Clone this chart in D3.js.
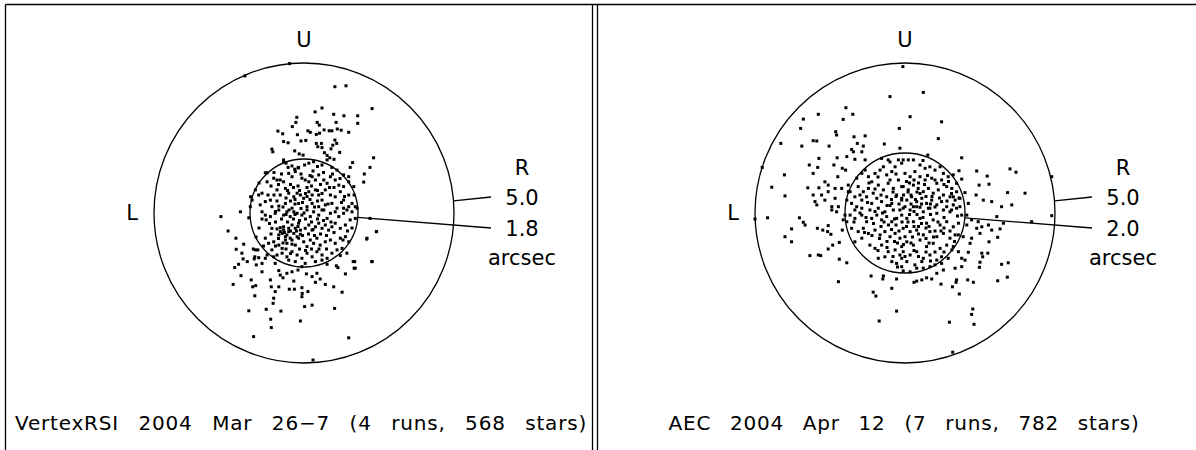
<!DOCTYPE html>
<html>
<head>
<meta charset="utf-8">
<script src="https://cdn.jsdelivr.net/npm/d3@7"></script>
<style>
  html, body { margin: 0; padding: 0; background: #fff; }
  svg { display: block; }
  text { font-family: "DejaVu Sans", sans-serif; fill: #000; }
</style>
</head>
<body>
<svg id="chart" width="1196" height="450"></svg>
<script>
// ---------------- DATA (offsets in arcsec; x toward R, y toward U) ----------------
const outerRadius = 5.0;
const innerRadii = [1.8, 2.0];
const captions = ["VertexRSI 2004 Mar 26\u22127 (4 runs, 568 stars)", "AEC 2004 Apr 12 (7 runs, 782 stars)"];
const dirLabels = ["U", "L", "R"];
const unitLabel = "arcsec";

const leftStars = [
[1.03,4.21],[1.40,4.24],[0.60,3.50],[0.37,3.37],[2.27,3.48],[0.99,3.29],[1.33,3.24],[1.79,3.24],[1.79,2.99],
[-0.24,3.19],[-0.27,3.02],[0.44,3.02],[0.51,2.93],[1.07,3.02],[0.84,2.74],[0.93,2.74],[1.11,2.80],[1.24,2.76],
[1.49,2.69],[-0.39,2.88],[-0.87,2.73],[-0.71,2.64],[0.13,2.74],[0.21,2.69],[0.41,2.62],[0.52,2.66],[0.67,2.77],
[-0.22,2.61],[-0.10,2.40],[0.06,2.42],[-0.68,2.38],[-0.53,2.34],[0.41,2.32],[0.58,2.32],[0.46,2.21],[0.60,2.18],
[1.03,2.43],[1.09,2.32],[0.96,2.26],[0.90,2.14],[-1.07,2.13],[-1.04,2.04],[-0.31,2.07],[-0.16,1.97],[-0.03,1.93],
[0.68,2.01],[0.77,1.92],[0.86,1.84],[1.00,1.79],[1.19,2.02],[1.62,1.68],[1.54,1.52],[2.32,1.84],[2.20,1.52],
[2.01,1.30],[1.99,1.03],[-0.68,1.77],[-0.60,1.66],[-1.23,1.34],[-0.53,1.52],[-0.31,1.46],
[-0.48,4.98],[-1.97,4.57],[0.30,-4.90],
[2.20,-0.18],[2.42,-0.62],[2.09,-0.87],[2.26,-1.62],[1.64,-1.62],[1.67,-1.84],[-2.12,0.04],[1.67,0.60],[-1.78,0.54],
[-2.77,-0.12],[-1.84,-0.16],[-2.53,-0.60],[-2.27,-0.84],[-2.01,-1.04],[-2.26,-1.21],[-2.07,-1.34],[-2.03,-1.53],
[-2.18,-1.71],[-2.31,-1.82],[-2.10,-2.09],[-2.36,-2.38],[-1.89,-1.62],[-1.69,-1.20],[-1.62,-1.23],[-1.54,-1.23],
[-1.64,-1.46],[-1.51,-1.49],[-1.66,-1.53],[-1.59,-1.73],[-1.40,-1.68],[-1.29,-1.51],[-1.23,-1.40],[-1.01,-1.46],
[-0.96,-1.68],[-1.40,-1.96],[-1.76,-2.23],[-1.71,-2.46],[-1.61,-2.42],[-1.64,-2.76],[-1.12,-2.23],[-1.09,-2.46],
[-0.96,-2.62],[-1.01,-2.84],[-1.03,-3.01],[-0.84,-2.46],[-0.84,-1.92],[-0.79,-2.07],[-0.70,-2.16],[-0.57,-2.01],
[-0.40,-1.96],[-0.20,-1.90],[-0.07,-1.79],[0.08,-2.03],[-0.34,-2.27],[-0.49,-2.54],[-0.32,-2.54],[-0.07,-2.49],
[-0.06,-2.68],[-0.07,-2.79],[0.13,-2.62],[0.27,-2.12],[0.38,-2.31],[0.43,-2.01],[0.54,-2.20],[0.71,-2.38],
[0.99,-2.46],[1.27,-2.64],[0.77,-1.71],[1.08,-1.76],[1.13,-1.82],[1.38,-2.03],[1.69,-1.62],[1.71,-1.84],
[2.27,-1.62],[1.43,-1.34],[1.21,-1.42],[2.10,-0.84],[2.41,-0.62],[-1.26,-3.21],[-1.84,-3.26],[-0.77,-3.27],
[0.02,-3.12],[0.27,-3.07],[1.02,-3.18],[-1.11,-3.54],[-1.09,-3.82],[-0.12,-3.60],[-1.68,-4.12],[1.49,-4.16],
[-0.68,1.71],[-0.40,1.57],[-0.18,1.52],[0.02,1.60],[0.16,1.66],[0.32,1.71],[0.60,1.60],[0.77,1.77],[0.93,1.52],
[1.10,1.43],[1.32,1.27],[1.49,1.21],[-1.29,1.34],[-1.23,1.04],[-1.01,1.16],[-0.90,1.10],[-0.79,1.10],[-0.68,1.04],
[-0.51,1.32],[-0.40,1.21],[-0.29,1.38],[-0.07,1.16],[0.04,1.10],[0.16,1.04],[0.27,1.21],[0.38,1.10],[0.49,1.27],
[0.66,1.10],[0.77,0.99],[0.88,1.21],[1.04,1.10],[1.16,0.93],[1.32,0.88],[1.49,1.04],[1.66,0.88],[-1.62,0.77],
[-1.51,0.60],[-1.40,0.66],[-1.29,0.38],[-1.12,0.43],[-0.90,0.77],[-0.79,0.60],[-0.62,0.82],[-0.51,0.66],
[-0.34,0.54],[-0.23,0.66],[-0.12,0.60],[-0.01,0.49],[0.16,0.71],[0.27,0.60],[0.38,0.77],[0.49,0.60],[0.60,0.43],
[0.71,0.77],[0.88,0.60],[1.04,0.54],[1.21,0.71],[1.32,0.43],[1.49,0.60],[1.60,0.32],[1.71,0.21],[-1.73,0.43],
[-1.79,0.21],[-1.46,0.27],[-1.07,0.21],[-0.84,0.23],[-0.62,0.32],[-0.40,0.16],[-0.18,0.32],[0.10,0.21],[0.27,0.32],
[0.49,0.21],[0.71,0.27],[0.93,0.32],[1.10,0.16],[1.32,0.16],[1.49,0.21],
[-0.20,0.90],[0.10,0.85],[-0.45,0.95],[0.55,0.95],[-0.05,0.35],[0.20,0.45],[-0.30,0.30],[0.45,0.40],[-0.60,0.50],
[0.80,0.30],[-0.90,0.40],[1.00,0.85],[-1.10,0.90],[0.30,1.40],[-0.10,1.30],[0.65,1.35],[-0.75,1.30],[1.20,1.15],
[-1.40,-0.20],[-1.26,-0.23],[-1.07,-0.51],[-0.90,-0.53],[-0.79,-0.49],[-0.68,-0.57],[-0.84,-0.73],[-0.73,-0.68],
[-0.62,-0.79],[-0.51,-0.62],[-0.40,-0.40],[-0.29,-0.51],[-0.18,-0.34],[-0.12,-0.57],[0.04,-0.51],[0.16,-0.40],
[0.27,-0.57],[0.38,-0.46],[0.49,-0.34],[0.60,-0.51],[0.71,-0.40],[0.82,-0.57],[0.93,-0.46],[1.04,-0.34],
[1.21,-0.51],[1.38,-0.40],[1.54,-0.23],[1.71,-0.18],[-1.40,0.04],[-1.29,-0.07],[-1.12,-0.12],[-0.96,-0.01],
[-0.84,0.10],[-0.68,-0.07],[-0.57,0.04],[-0.46,-0.12],[-0.34,0.04],[-0.23,-0.01],[-0.07,-0.07],[0.10,0.10],
[0.21,-0.12],[0.32,0.04],[0.49,-0.07],[0.66,0.10],[0.77,-0.18],[0.88,-0.01],[1.04,0.04],[1.16,-0.12],[1.32,-0.01],
[1.43,0.10],[1.60,0.04],[1.77,0.16],[-1.29,-0.84],[-1.18,-1.01],[-1.01,-0.96],[-0.84,-1.07],[-0.73,-1.18],
[-0.57,-1.01],[-0.40,-0.90],[-0.29,-1.07],[-0.18,-0.84],[-0.01,-0.96],[0.10,-1.12],[0.21,-0.90],[0.32,-1.01],
[0.43,-0.84],[0.54,-1.07],[0.71,-0.96],[0.88,-0.90],[1.04,-1.01],[1.21,-0.84],[1.38,-0.79],[1.49,-0.96],
[-1.07,-1.23],[-0.90,-1.40],[-0.73,-1.34],[-0.57,-1.46],[-0.40,-1.29],[-0.23,-1.40],[-0.07,-1.51],[0.10,-1.34],
[0.27,-1.46],[0.43,-1.29],[0.60,-1.40],[0.77,-1.51],[0.93,-1.34],[1.10,-1.23],[1.27,-1.18],[-0.29,-1.62],
[0.04,-1.68],[0.38,-1.62],[0.60,-1.57],[-0.51,-1.57],[-0.79,-0.62],[-0.68,-0.46],[-0.57,-0.73],[-0.46,-0.84],
[-0.34,-0.68],[-0.23,-0.79],[-0.12,-0.71],[-0.51,-0.51],[-0.62,-0.90],[-0.40,-1.04],
[-0.55,0.75],[-0.35,0.85],[-0.15,0.75],[0.05,0.65],[0.25,0.90],[0.45,0.75],[-0.70,0.20],[-0.50,0.10],[-0.30,0.45],
[-0.10,0.15],[0.10,0.55],[0.35,0.20],[0.60,0.65],[0.85,0.85],[-0.95,0.05],[-0.75,-0.20],[-0.55,-0.30],[-0.35,-0.20],
[-0.15,-0.25],[0.05,-0.20],[0.25,-0.30],[0.45,-0.20],[0.65,-0.25],[0.90,-0.30],[-1.15,-0.35],[-0.95,-0.30],
[-0.85,-0.85],[-0.65,-0.65],[-0.45,-0.60],[-0.25,-0.60],[-0.05,-0.75],[0.15,-0.70],[0.35,-0.75],[0.55,-0.70],
[0.75,-0.75],[1.00,-0.65],[-1.10,-0.70],[-0.95,-1.10],[-0.60,-1.20],[-0.45,-1.35],[-0.15,-1.20],[0.05,-1.25],
[0.25,-1.20],[0.50,-1.20],[0.75,-1.20],[-0.70,-1.00],[1.30,-0.90],[1.25,0.35],[1.45,-0.60],[-1.50,-0.50],
[-1.60,-0.80],[-1.35,-1.10],[-1.20,0.60],[-1.00,0.60],[-1.50,1.00],[-0.85,0.95],[0.95,1.30],[1.35,0.55],
[1.60,-0.50],[0.20,1.25],[-0.20,1.50],[0.45,1.55],[-1.00,1.35],[-0.30,-0.05],[0.00,0.00],[-0.20,-0.45],
[-0.60,-0.05],[-0.45,0.40],[0.60,0.10],[0.30,-0.55]
];

const rightStars = [
[-0.07,4.88],[-4.76,1.52],[-5.00,-0.20],[4.89,1.21],[4.89,-0.09],[1.59,-4.64],
[-0.50,3.88],[-0.19,2.82],[-1.97,3.51],[-1.74,3.29],[-2.89,3.29],[-3.39,3.13],[-2.06,3.12],[-3.48,2.82],
[-2.31,2.71],[-2.28,2.60],[-1.70,2.54],[-1.33,2.57],[-3.06,2.41],[-2.94,2.40],[-4.14,2.32],[-3.44,2.23],
[-2.53,2.23],[-1.59,2.32],[-1.39,2.23],[-0.69,2.30],[-0.17,2.16],[-1.78,2.12],[-1.72,2.04],[-1.44,2.04],
[-2.87,1.82],[-2.26,1.84],[-1.94,1.88],[-1.67,1.79],[-1.33,1.77],[-0.78,1.82],[-0.56,1.77],[-3.19,1.60],
[-2.91,1.52],[-2.37,1.60],[-2.09,1.49],[-1.98,1.43],[-3.06,1.32],[-2.24,1.21],[-4.02,1.27],[-2.67,1.04],
[-2.56,0.93],[-3.24,0.84],[-2.87,0.84],[-4.44,0.86],[-4.00,0.57],[-3.06,0.60],[-2.78,0.60],[-2.56,0.71],
[-2.33,0.82],[-2.11,0.82],[-1.89,0.93],[-1.89,0.71],[-3.00,0.38],[-2.94,0.27],[-2.67,0.43],[-2.33,0.49],
[-2.22,0.21],[-2.44,0.21],
[-1.61,1.16],[-1.44,1.32],[-1.33,1.43],[-1.22,1.21],[-1.11,1.04],[-1.00,1.32],[-0.83,1.43],[-0.72,1.54],
[-0.61,1.27],[-0.44,1.38],[-0.33,1.54],[-0.22,1.77],[-0.11,1.66],[-1.56,0.88],[-1.39,0.71],[-1.22,0.82],
[-1.06,0.66],[-0.89,0.93],[-0.72,0.77],[-0.56,0.99],[-0.39,0.82],[-0.22,1.10],[-0.11,0.88],[-1.67,0.54],
[-1.44,0.43],[-1.28,0.54],[-1.11,0.32],[-0.94,0.49],[-0.78,0.38],[-0.61,0.54],[-0.44,0.32],[-0.28,0.60],
[-0.11,0.43],[-1.78,0.32],[-1.61,0.21],[-1.94,0.43],[-1.83,0.71],
[0.61,4.02],[0.17,3.21],[1.22,3.04],[1.11,2.48],[0.76,1.93],[1.89,1.84],[2.39,1.40],[1.80,1.41],[2.74,1.23],
[3.50,1.47],[3.70,1.36],[1.89,1.13],[2.47,0.93],[2.80,0.96],[3.42,0.68],[4.00,0.66],[2.00,0.68],[2.37,0.60],
[2.61,0.43],[2.89,0.38],[3.22,0.21],[3.56,0.27],[2.11,0.32],[1.83,0.49],[1.61,0.54],
[-0.06,1.77],[0.11,1.77],[0.28,1.77],[0.50,1.60],[0.67,1.49],[0.83,1.54],[1.00,1.43],[1.17,1.54],[1.28,1.32],
[1.44,1.21],[1.61,1.27],[1.72,0.99],[0.00,1.32],[0.17,1.21],[0.33,1.38],[0.50,1.21],[0.67,1.10],[0.89,1.16],
[1.06,0.99],[1.22,1.10],[1.39,0.88],[1.56,0.82],[1.72,0.71],[-0.06,0.88],[0.11,0.77],[0.28,0.93],[0.44,0.82],
[0.61,0.71],[0.78,0.82],[0.94,0.66],[1.11,0.77],[1.28,0.60],[1.50,0.54],[1.67,0.43],[-0.11,0.49],[0.06,0.43],
[0.22,0.54],[0.39,0.38],[0.56,0.49],[0.72,0.32],[0.89,0.43],[1.06,0.27],[1.22,0.38],[1.39,0.21],[1.61,0.27],
[1.83,0.21],[0.00,0.21],[0.28,0.21],[0.50,0.19],[0.78,0.16],
[-4.58,-0.16],[-3.52,-0.16],[-3.39,-0.31],[-3.33,-0.40],[-3.78,-0.53],[-4.00,-0.79],[-3.78,-0.96],[-2.92,-0.51],
[-2.74,-0.57],[-2.56,-0.42],[-2.58,-0.62],[-2.47,-0.71],[-2.41,-1.07],[-2.56,-1.20],[-2.09,-0.57],[-2.19,-0.98],
[-3.17,-1.42],[-2.89,-1.40],[-2.81,-1.42],[-2.19,-1.54],[-1.94,-1.66],[-2.22,-2.29],[-1.13,-2.10],[-0.72,-2.10],
[-0.74,-2.20],[-0.44,-2.51],[-0.28,-2.20],[-1.06,-2.64],[-0.97,-2.77],[-0.28,-3.27],[-0.86,-3.60],
[-1.67,-0.18],[-1.44,-0.07],[-1.28,-0.29],[-1.11,-0.18],[-0.94,-0.07],[-0.78,-0.23],[-0.61,-0.12],[-0.44,-0.29],
[-0.28,-0.18],[-0.11,-0.07],[-1.78,-0.51],[-1.56,-0.62],[-1.39,-0.51],[-1.22,-0.68],[-1.00,-0.57],[-0.83,-0.73],
[-0.67,-0.62],[-0.50,-0.79],[-0.33,-0.68],[-0.17,-0.84],[-1.67,-0.96],[-1.44,-0.84],[-1.17,-1.07],[-1.00,-1.18],
[-0.78,-1.07],[-0.56,-1.29],[-0.33,-1.23],[-0.17,-1.40],[-0.89,-1.51],[-0.67,-1.46],[-0.44,-1.62],[-0.28,-1.68],
[-0.11,-1.79],[-0.11,-1.51],[-1.94,-0.29],[-1.83,-0.07],[-1.67,0.10],[-1.44,0.16],[-1.17,0.10],[-0.89,0.16],
[-0.67,0.04],[-0.39,0.10],[-0.17,0.10],[-2.44,0.10],[-2.28,0.04],[-2.06,-0.23],[-2.00,-0.07],
[4.22,-0.29],[3.06,-0.12],[3.28,-0.34],[3.17,-0.53],[2.89,-0.57],[2.78,-0.40],[2.56,-0.46],[2.44,-0.29],
[3.09,-0.81],[2.80,-0.96],[2.56,-1.34],[2.59,-1.46],[2.76,-1.34],[2.50,-1.64],[2.48,-1.81],[3.22,-1.71],
[3.44,-1.66],[3.41,-2.14],[3.09,-2.26],[2.28,-2.31],[2.09,-2.23],[1.72,-2.23],[1.70,-2.31],[1.58,-2.46],
[1.81,-2.70],[1.20,-2.37],[0.89,-2.20],[0.72,-2.16],[0.56,-2.23],[0.39,-2.27],[0.30,-2.31],[2.26,-3.20],
[2.22,-3.38],[2.30,-3.71],[1.48,-3.64],[1.67,-1.84],[1.89,-1.79],[1.28,-1.90],[1.06,-2.01],[1.89,-1.51],
[2.00,-1.57],[2.11,-1.31],[2.22,-0.84],[2.17,-1.01],[2.50,-0.68],[2.39,-0.51],[2.06,-0.40],[2.22,-0.23],
[2.06,-0.07],[1.78,-0.73],[1.94,-0.79],[1.61,-1.12],[1.78,-1.29],[1.44,-1.51],[1.22,-1.68],[1.00,-1.73],
[0.83,-1.79],[0.61,-1.84],[0.39,-1.84],[0.17,-1.96],[-0.06,-1.93],
[-0.06,0.16],[0.17,0.10],[0.39,0.21],[0.61,0.04],[0.83,0.16],[1.06,-0.01],[1.28,0.10],[1.50,0.04],[1.72,0.16],
[1.89,-0.07],[0.06,-0.18],[0.28,-0.29],[0.50,-0.18],[0.72,-0.34],[0.94,-0.23],[1.17,-0.40],[1.39,-0.29],
[1.61,-0.46],[1.78,-0.34],[-0.06,-0.51],[0.17,-0.62],[0.39,-0.57],[0.61,-0.73],[0.83,-0.62],[1.06,-0.79],
[1.28,-0.68],[1.50,-0.84],[1.67,-0.73],[0.06,-0.96],[0.28,-1.07],[0.50,-0.90],[0.72,-1.12],[0.94,-1.01],
[1.17,-1.18],[1.39,-1.07],[1.56,-1.23],[-0.06,-1.29],[0.17,-1.40],[0.39,-1.29],[0.61,-1.51],[0.83,-1.40],
[1.06,-1.57],[1.22,-1.46],[0.06,-1.62],[0.33,-1.73],[0.56,-1.62],[-0.11,-1.12],[0.00,-0.79],
[0.20,0.60],[0.40,0.70],[0.55,0.30],[0.30,0.05],[0.10,-0.30],[-0.30,-0.40],[-0.50,0.25],[0.70,-0.50],
[0.90,0.55],[-0.20,0.30],[0.45,-0.45],[0.15,1.00],[-0.40,0.70],[0.65,0.95],[1.00,0.20],[-0.70,-0.30],
[0.25,-0.80],[-0.25,-1.00],[0.80,-1.00],[1.20,-0.60],
[0.20,0.30],[0.35,0.45],[0.50,0.65],[0.70,0.55],[0.85,0.30],[0.10,0.70],[-0.05,0.60],[-0.30,0.55],[-0.45,0.45],
[-0.60,0.25],[-0.80,0.60],[-1.00,0.80],[-1.20,1.00],[-0.90,1.20],[-0.50,1.10],[-0.30,1.30],[0.05,1.05],[0.30,1.10],
[0.45,1.00],[0.75,1.25],[1.00,1.10],[1.30,0.95],[1.15,0.50],[1.40,0.40],[1.55,0.10],[1.30,-0.15],[1.10,-0.30],
[0.85,-0.05],[0.60,-0.15],[0.40,-0.05],[0.15,-0.05],[-0.10,-0.30],[-0.35,-0.20],[-0.55,-0.40],[-0.80,-0.45],
[-1.05,-0.35],[-1.30,-0.15],[-1.50,0.00],[-1.25,0.35],[-1.00,0.05],[-0.75,0.00],[-0.45,-0.55],[-0.20,-0.60],
[0.05,-0.45],[0.30,-0.45],[0.55,-0.35],[0.80,-0.45],[1.00,-0.60],[1.30,-0.50],[1.50,-0.60],[0.95,-0.80],
[0.70,-0.85],[0.45,-0.70],[0.20,-1.00],[-0.05,-1.05],[-0.35,-0.95],[-0.60,-0.95],[-0.85,-0.85],[-1.10,-0.75],
[-1.35,-0.65],[-0.90,-1.25],[-0.60,-1.15],[-0.40,-1.45],[0.00,-1.45],[0.30,-1.25],[0.70,-1.30],[1.00,-1.30],
[1.30,-1.30],[0.85,-1.60],[0.45,-1.45],[-0.25,-1.80],[1.65,-0.95],[1.75,-0.10],[1.80,0.50],[1.55,0.65],
[1.45,1.05],[0.60,1.75],[-0.50,1.70],[-1.50,0.60],[-1.70,-0.30]
];

// ---------------- LAYOUT ----------------
const W = 1196, H = 450;
const svg = d3.select("#chart");

// panel frames
const frame = svg.append("g").attr("fill", "none").attr("stroke", "#000").attr("stroke-width", 1.3);
frame.append("line").attr("x1", 5.5).attr("x2", W).attr("y1", 4.5).attr("y2", 4.5);
frame.append("line").attr("x1", 5.5).attr("x2", 5.5).attr("y1", 4.5).attr("y2", H);
frame.append("line").attr("x1", 592.5).attr("x2", 592.5).attr("y1", 4.5).attr("y2", H);
frame.append("line").attr("x1", 597.5).attr("x2", 597.5).attr("y1", 4.5).attr("y2", H);

const panels = [
  { cx: 304, cy: 213, stars: leftStars, inner: innerRadii[0], caption: captions[0], capCx: 301, capW: 572 },
  { cx: 905, cy: 213, stars: rightStars, inner: innerRadii[1], caption: captions[1], capCx: 904, capW: 471 }
];

const pxR = 150; // pixel radius of the 5-arcsec circle

panels.forEach(p => {
  const x = d3.scaleLinear().domain([-outerRadius, outerRadius]).range([p.cx - pxR, p.cx + pxR]);
  const y = d3.scaleLinear().domain([-outerRadius, outerRadius]).range([p.cy + pxR, p.cy - pxR]);
  const r = v => x(v) - x(0);
  const g = svg.append("g");

  // circles
  g.append("circle").attr("cx", x(0)).attr("cy", y(0)).attr("r", r(outerRadius))
    .attr("fill", "none").attr("stroke", "#000").attr("stroke-width", 1.3);
  g.append("circle").attr("cx", x(0)).attr("cy", y(0)).attr("r", r(p.inner))
    .attr("fill", "none").attr("stroke", "#000").attr("stroke-width", 1.3);

  // stars
  const s = 3;
  g.append("g").selectAll("rect").data(p.stars).join("rect")
    .attr("x", d => x(d[0]) - s / 2).attr("y", d => y(d[1]) - s / 2)
    .attr("width", s).attr("height", s).attr("fill", "#000");

  // direction labels
  const fs = 21;
  g.append("text").attr("x", x(0)).attr("y", y(outerRadius) - 16).attr("text-anchor", "middle")
    .attr("font-size", fs).text(dirLabels[0]);
  g.append("text").attr("x", x(-outerRadius) - 22).attr("y", y(0) + 7).attr("text-anchor", "middle")
    .attr("font-size", fs).text(dirLabels[1]);
  const lx = x(0) + 218;
  g.append("text").attr("x", lx).attr("y", y(0) - 38).attr("text-anchor", "middle")
    .attr("font-size", fs).text(dirLabels[2]);
  g.append("text").attr("x", lx).attr("y", y(0) - 8).attr("text-anchor", "middle")
    .attr("font-size", fs).text(d3.format(".1f")(outerRadius));
  g.append("text").attr("x", lx).attr("y", y(0) + 22.5).attr("text-anchor", "middle")
    .attr("font-size", fs).text(d3.format(".1f")(p.inner));
  g.append("text").attr("x", lx).attr("y", y(0) + 52).attr("text-anchor", "middle")
    .attr("font-size", fs).text(unitLabel);

  // leader lines
  const a1 = 4.6 * Math.PI / 180, a2 = -4.6 * Math.PI / 180;
  g.append("line")
    .attr("x1", x(0) + r(outerRadius) * Math.cos(a1)).attr("y1", y(0) - r(outerRadius) * Math.sin(a1))
    .attr("x2", lx - 31).attr("y2", y(0) - 16)
    .attr("stroke", "#000").attr("stroke-width", 1.3);
  g.append("line")
    .attr("x1", x(0) + r(p.inner) * Math.cos(a2)).attr("y1", y(0) - r(p.inner) * Math.sin(a2))
    .attr("x2", lx - 31).attr("y2", y(0) + 15)
    .attr("stroke", "#000").attr("stroke-width", 1.3);

  // caption, spread across the panel width
  const cap = g.append("text").attr("x", p.capCx).attr("y", 430).attr("text-anchor", "middle")
    .attr("font-size", 20).attr("letter-spacing", 0.8).text(p.caption);
  const natural = cap.node().getComputedTextLength();
  const nSpaces = (p.caption.match(/ /g) || []).length;
  cap.attr("word-spacing", Math.max(0, (p.capW - natural) / nSpaces));
});
</script>
</body>
</html>
